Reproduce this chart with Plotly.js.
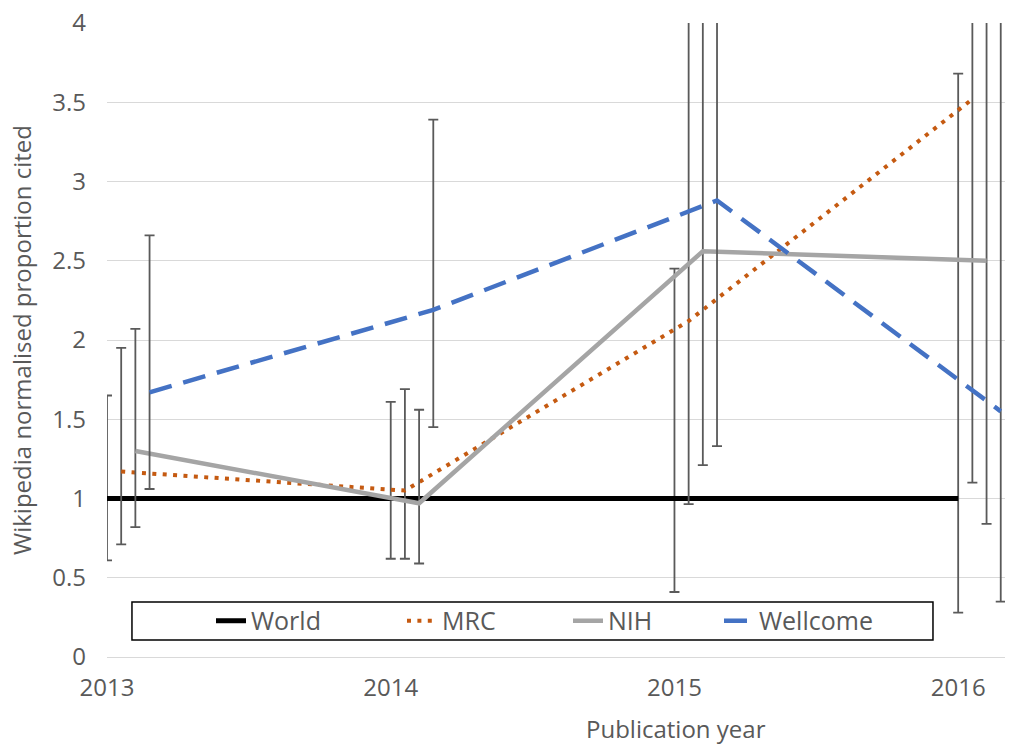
<!DOCTYPE html>
<html>
<head>
<meta charset="utf-8">
<script src="https://cdn.plot.ly/plotly-3.0.1.min.js"></script>
<style>html,body{margin:0;padding:0;background:#fff;}#chart{width:1018px;height:745px;}</style>
</head>
<body>
<div id="chart"></div>
<script>
// ---- data ----
const years = [2013, 2014, 2015, 2016];
const yearLabels = ["2013", "2014", "2015", "2016"];

const worldX = [2013, 2014, 2015, 2016];
const worldY = [1, 1, 1, 1];
const worldUpper = [1.65, 1.61, 2.45, 3.68];
const worldLower = [0.61, 0.62, 0.41, 0.28];

const mrcX = [2013.05, 2014.05, 2015.05, 2016.05];
const mrcY = [1.17, 1.05, 2.12, 3.52];
const mrcUpper = [1.95, 1.69, 4.6, 4.6];
const mrcLower = [0.71, 0.62, 0.965, 1.10];

const nihX = [2013.10, 2014.10, 2015.10, 2016.10];
const nihY = [1.30, 0.97, 2.56, 2.50];
const nihUpper = [2.07, 1.56, 4.6, 4.6];
const nihLower = [0.82, 0.59, 1.21, 0.84];

const wellX = [2013.15, 2014.15, 2015.15, 2016.15];
const wellY = [1.67, 2.19, 2.88, 1.55];
const wellUpper = [2.66, 3.39, 4.6, 4.6];
const wellLower = [1.06, 1.45, 1.33, 0.35];

// ---- helpers ----
const errColor = '#5a5a5a';
function errBars(y, up, lo) {
  return {
    type: 'data', symmetric: false,
    array: up.map((u, i) => u - y[i]),
    arrayminus: lo.map((l, i) => y[i] - l),
    color: errColor, thickness: 1.8, width: 5
  };
}
const FONT = 'Open Sans, Liberation Sans, sans-serif';
const TXT = '#595959';

const traces = [
  {x: worldX, y: worldY, name: 'World', type: 'scatter', mode: 'lines', legendwidth: 146,
   line: {color: '#000000', width: 5}, error_y: errBars(worldY, worldUpper, worldLower)},
  {x: mrcX, y: mrcY, name: 'MRC', type: 'scatter', mode: 'lines', legendwidth: 121,
   line: {color: '#C55A11', width: 4, dash: '4px,6.4px'}, error_y: errBars(mrcY, mrcUpper, mrcLower)},
  {x: nihX, y: nihY, name: 'NIH', type: 'scatter', mode: 'lines', legendwidth: 106,
   line: {color: '#A5A5A5', width: 4.5}, error_y: errBars(nihY, nihUpper, nihLower)},
  {x: wellX, y: wellY, name: 'Wellcome', type: 'scatter', mode: 'lines', legendwidth: 130,
   line: {color: '#4472C4', width: 4.5, dash: '23px,12px'}, error_y: errBars(wellY, wellUpper, wellLower)}
];

const layout = {
  width: 1018, height: 745,
  margin: {l: 107, r: 13, t: 23, b: 88},
  paper_bgcolor: '#fff', plot_bgcolor: '#fff',
  showlegend: true,
  font: {family: FONT, color: TXT, size: 24},
  xaxis: {
    range: [2013, 2016.165], tickvals: years, ticktext: yearLabels,
    showgrid: false, zeroline: false, showline: false, ticks: '',
    tickfont: {family: FONT, size: 24, color: TXT}, ticklabelstandoff: 14
  },
  yaxis: {
    range: [0, 4], dtick: 0.5, tick0: 0,
    showgrid: true, gridcolor: '#D9D9D9', gridwidth: 1,
    zeroline: true, zerolinecolor: '#D9D9D9', zerolinewidth: 1,
    showline: false, ticks: '',
    tickfont: {family: FONT, size: 24, color: TXT}, ticklabelstandoff: 20,
    title: {text: 'Wikipedia normalised proportion cited', font: {family: FONT, size: 24, color: TXT}, standoff: 13}
  },
  legend: {
    orientation: 'h', x: 0.1158, xanchor: 'left', y: 0.0568, yanchor: 'middle',
    bgcolor: 'rgba(0,0,0,0)', borderwidth: 0,
    font: {family: FONT, size: 25, color: TXT}
  },
  shapes: [{
    type: 'rect', xref: 'paper', yref: 'paper', layer: 'below',
    x0: 0.0278, x1: 0.9198, y0: 0.0268, y1: 0.0868,
    line: {color: '#000', width: 1.5}, fillcolor: '#fff'
  }],
  annotations: [{
    text: 'Publication year', xref: 'paper', yref: 'paper',
    x: 0.634, y: -0.112, xanchor: 'center', yanchor: 'middle', showarrow: false,
    font: {family: FONT, size: 24, color: TXT}
  }]
};

Plotly.newPlot('chart', traces, layout, {displayModeBar: false, staticPlot: true});
</script>
</body>
</html>
